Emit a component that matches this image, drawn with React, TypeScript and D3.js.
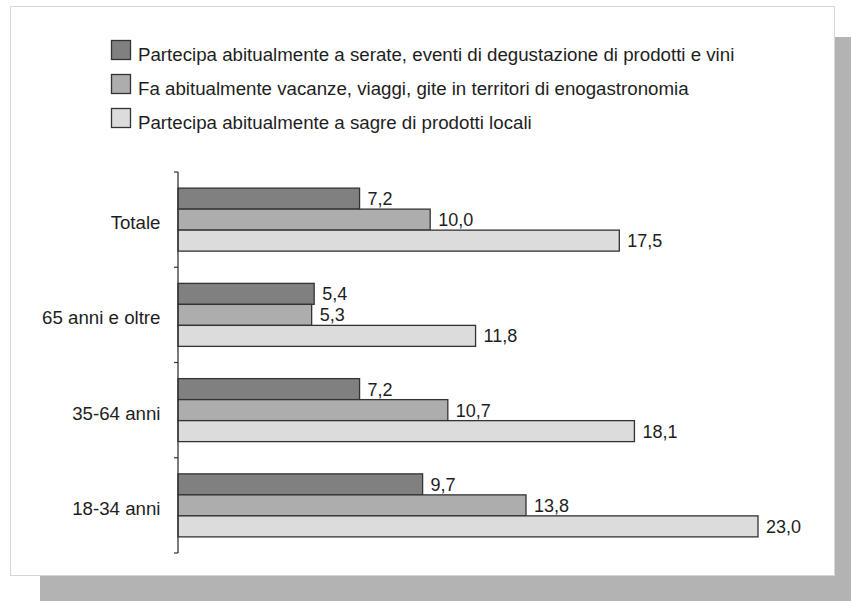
import React from "react";
import * as d3 from "d3";

const categories = ["Totale", "65 anni e oltre", "35-64 anni", "18-34 anni"];
const seriesNames = [
  "Partecipa abitualmente a serate, eventi di degustazione di prodotti e vini",
  "Fa abitualmente vacanze, viaggi, gite in territori di enogastronomia",
  "Partecipa abitualmente a sagre di prodotti locali",
];
const serateEventi = [7.2, 5.4, 7.2, 9.7];
const vacanzeViaggi = [10.0, 5.3, 10.7, 13.8];
const sagre = [17.5, 11.8, 18.1, 23.0];
const seriesValues = [serateEventi, vacanzeViaggi, sagre];
const seriesColors = ["#808080", "#adadad", "#dcdcdc"];

const W = 851;
const H = 601;
const FONT = "'Liberation Sans', Arial, Helvetica, sans-serif";

export default function App() {
  const x = d3.scaleLinear().domain([0, 23]).range([178, 758]);
  const y = d3.scaleBand<string>().domain(categories).range([172, 553]);
  const barH = 21;
  const inner = d3
    .scaleBand<number>()
    .domain([0, 1, 2])
    .range([(y.bandwidth() - 3 * barH) / 2, (y.bandwidth() + 3 * barH) / 2]);
  const fmt = (v: number) => v.toFixed(1).replace(".", ",");
  const tickYs = [...categories.map((c) => y(c) as number), 553];

  return (
    <svg
      width={W}
      height={H}
      style={{ position: "absolute", left: 0, top: 0, fontFamily: FONT }}
    >
      <rect x={0} y={0} width={W} height={H} fill="#ffffff" />
      <rect x={40} y={37} width={W - 40} height={H - 37} fill="#b3b3b3" />
      <rect x={10.5} y={6.5} width={824} height={569} fill="#ffffff" stroke="#d6d6d6" strokeWidth={1} />

      {seriesNames.map((name, i) => (
        <g key={name} transform={`translate(111.5, ${40.5 + i * 34})`}>
          <rect width={19} height={19} fill={seriesColors[i]} stroke="#333" strokeWidth={1.3} />
          <text x={26.5} y={20} fontSize={18.7} fill="#1e1e1e">
            {name}
          </text>
        </g>
      ))}

      {categories.map((c, ci) => (
        <g key={c}>
          {seriesValues.map((vals, si) => (
            <g key={si}>
              <rect
                x={x(0)}
                y={(y(c) as number) + (inner(si) as number)}
                width={x(vals[ci]) - x(0)}
                height={barH}
                fill={seriesColors[si]}
                stroke="#333"
                strokeWidth={1.3}
              />
              <text
                x={x(vals[ci]) + 8}
                y={(y(c) as number) + (inner(si) as number) + barH / 2 + 6.5}
                fontSize={18}
                fill="#1e1e1e"
              >
                {fmt(vals[ci])}
              </text>
            </g>
          ))}
          <text
            x={160.5}
            y={(y(c) as number) + y.bandwidth() / 2 + 9.5}
            fontSize={18.7}
            textAnchor="end"
            fill="#1e1e1e"
          >
            {c}
          </text>
        </g>
      ))}

      <line x1={x(0)} x2={x(0)} y1={172} y2={553} stroke="#333" strokeWidth={1.3} />
      {tickYs.map((ty, i) => (
        <line key={i} x1={x(0) - 4} x2={x(0)} y1={ty} y2={ty} stroke="#333" strokeWidth={1.2} />
      ))}
    </svg>
  );
}
